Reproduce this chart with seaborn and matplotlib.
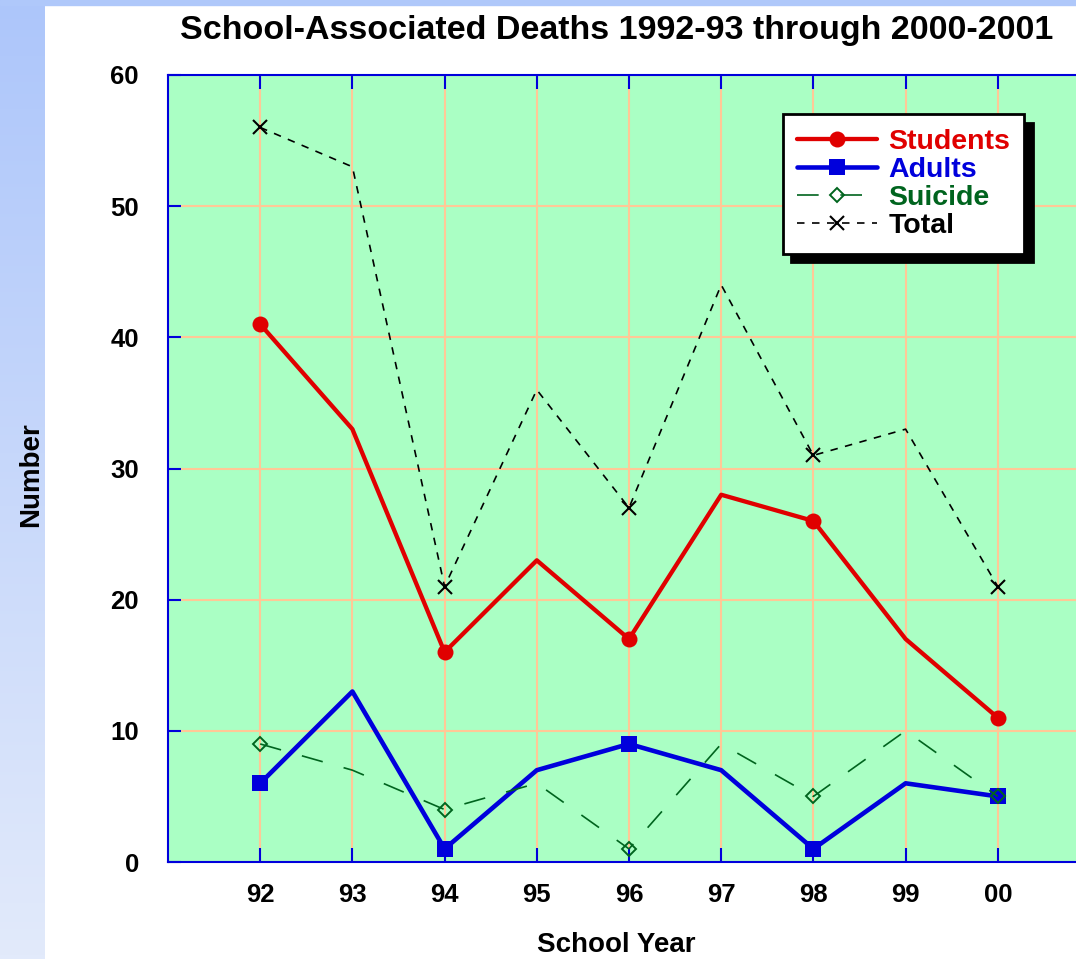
import numpy as np
import pandas as pd
import matplotlib
matplotlib.use("Agg")
import matplotlib.pyplot as plt
import seaborn as sns

# data
years = [92, 93, 94, 95, 96, 97, 98, 99, 100]
year_labels = ["92", "93", "94", "95", "96", "97", "98", "99", "00"]
students = [41, 33, 16, 23, 17, 28, 26, 17, 11]
adults = [6, 13, 1, 7, 9, 7, 1, 6, 5]
suicide = [9, 7, 4, 6, 1, 9, 5, 10, 5]
total = [56, 53, 21, 36, 27, 44, 31, 33, 21]

sns.set_style("white")
plt.rcParams['font.family'] = ['Liberation Sans', 'DejaVu Sans']
plt.rcParams['font.weight'] = 'bold'
plt.rcParams['text.color'] = 'black'
plt.rcParams['xtick.labelcolor'] = 'black'
plt.rcParams['ytick.labelcolor'] = 'black'

RED = '#E00000'
BLUE = '#0000DC'
GREEN = '#00641E'
BG = '#AAFFC4'
GRID = '#FFC896'

fig = plt.figure(figsize=(10.76, 9.59), dpi=100)
fig.patch.set_facecolor('white')

# blue gradient strip on the left and thin strip on top
strip = fig.add_axes([0, 0, 45 / 1076, 1])
grad = np.linspace(0, 1, 256).reshape(-1, 1)
cmap = matplotlib.colors.LinearSegmentedColormap.from_list('strip', ['#ADC6FA', '#E2EAFB'])
strip.imshow(grad, aspect='auto', cmap=cmap, extent=[0, 1, 0, 1], origin='upper')
strip.set_axis_off()
fig.patches.append(plt.Rectangle((0, 1 - 5 / 959), 1, 5 / 959, transform=fig.transFigure,
                                 color='#AFC8FA', zorder=0))

ax = fig.add_axes([168 / 1076, 1 - 862 / 959, 922 / 1076, 787 / 959])
ax.set_facecolor(BG)

df = pd.DataFrame({'year': years, 'Students': students, 'Adults': adults,
                   'Suicide': suicide, 'Total': total})

sns.lineplot(data=df, x='year', y='Total', ax=ax, color='black', lw=1.2,
             linestyle=(0, (4.5, 4.5)), marker='x', markersize=10.5, markeredgewidth=1.5,
             markeredgecolor='black', markevery=2, label='Total', zorder=3)
sns.lineplot(data=df, x='year', y='Suicide', ax=ax, color=GREEN, lw=1.2,
             linestyle=(0, (13, 13)), marker='D', markersize=7.5, markeredgewidth=1.4,
             markerfacecolor='none', markeredgecolor=GREEN, markevery=2, label='Suicide', zorder=4)
sns.lineplot(data=df, x='year', y='Adults', ax=ax, color=BLUE, lw=3.3,
             marker='s', markersize=11.5, markeredgecolor=BLUE, markeredgewidth=0,
             markevery=2, label='Adults', zorder=3.5)
sns.lineplot(data=df, x='year', y='Students', ax=ax, color=RED, lw=3.1,
             marker='o', markersize=11.5, markeredgecolor=RED, markeredgewidth=0,
             markevery=2, label='Students', zorder=3.6)

ax.set_xlim(91, 101)
ax.set_ylim(0, 60)
ax.set_xticks(years)
ax.set_xticklabels(year_labels)
ax.set_yticks(range(0, 61, 10))
ax.set_axisbelow(True)
ax.grid(True, color=GRID, lw=1.5)
ax.tick_params(axis='x', direction='in', length=10, width=1.5, color=BLUE,
               top=True, bottom=True, labelsize=18.5, pad=15)
ax.tick_params(axis='y', direction='in', length=9, width=1.5, color=BLUE,
               left=True, labelsize=18.5, pad=21)
for lab in ax.get_xticklabels() + ax.get_yticklabels():
    lab.set_fontweight('bold')
for s in ax.spines.values():
    s.set_color(BLUE)
    s.set_linewidth(1.5)
ax.set_xlabel('')
ax.set_ylabel('')

# legend
h, l = ax.get_legend_handles_labels()
order = ['Students', 'Adults', 'Suicide', 'Total']
hh = [h[l.index(o)] for o in order]
leg = ax.legend(hh, order, loc='upper left', bbox_to_anchor=(0.667, 0.950), borderaxespad=0,
                fontsize=20.5, handlelength=2.8, handletextpad=0.4, labelspacing=0.08,
                borderpad=0.5, fancybox=False, framealpha=1, edgecolor='black',
                shadow={'ox': 6, 'oy': -6, 'color': 'black', 'alpha': 1})
leg.get_frame().set_linewidth(2)
leg.set_zorder(10)
for txt, c in zip(leg.get_texts(), [RED, BLUE, GREEN, 'black']):
    txt.set_color(c)
    txt.set_fontweight('bold')

fig.text(617 / 1076, 1 - 30 / 959, 'School-Associated Deaths 1992-93 through 2000-2001',
         ha='center', va='center', fontsize=24.5, fontweight='bold')
fig.text(616 / 1076, 1 - 945 / 959, 'School Year', ha='center', va='center',
         fontsize=20, fontweight='bold')
fig.text(31 / 1076, 1 - 475 / 959, 'Number', ha='center', va='center', rotation=90,
         fontsize=20, fontweight='bold')

fig.savefig('out.png', dpi=100)
